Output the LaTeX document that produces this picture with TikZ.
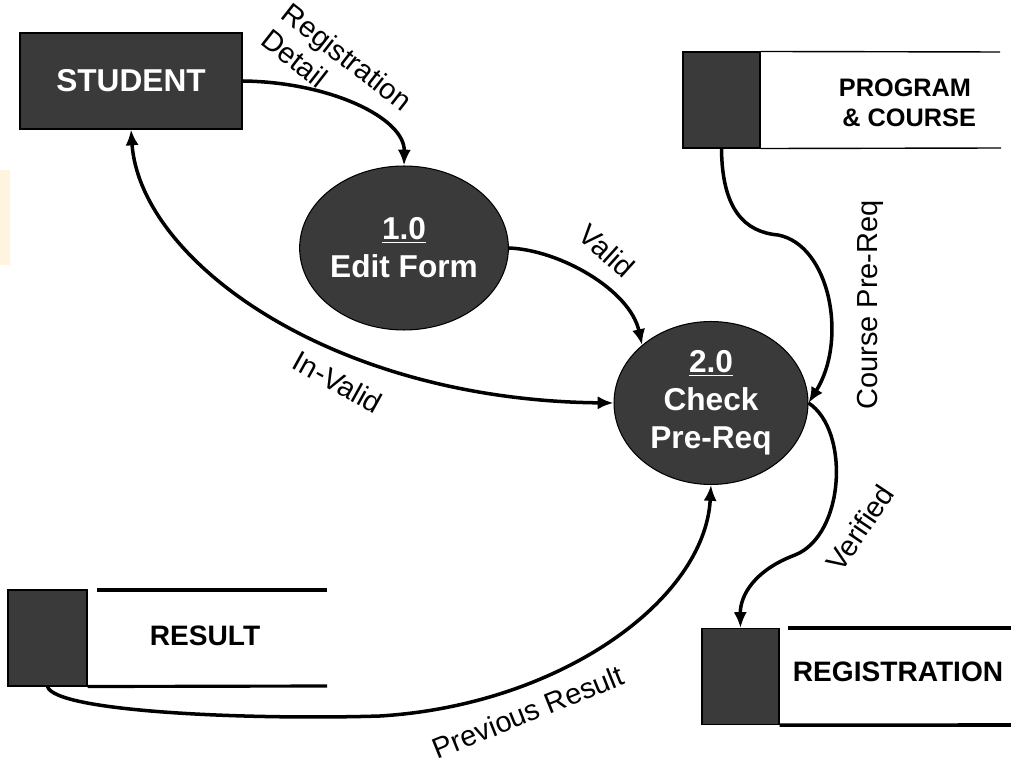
\documentclass[tikz,border=0pt]{standalone}
\usepackage{fontspec}
\setmainfont{Liberation Sans}
\usetikzlibrary{shapes.geometric,arrows.meta}
\definecolor{dfdgrey}{HTML}{3A3A3A}
\definecolor{patch}{HTML}{FFF4DF}
\begin{document}
\begin{tikzpicture}[x=0.02cm,y=-0.02cm]
\tikzset{entite/.style={draw, fill=dfdgrey, text=white, font=\fontsize{18}{21.5}\selectfont\bfseries, inner sep=0pt, line width=0.6pt},
         processus/.style={entite, ellipse, align=center},
         stocke/.style={draw, fill=dfdgrey, inner sep=0pt, line width=0.6pt, minimum width=1.54cm, minimum height=1.92cm},
         titre/.style={font=\fontsize{16}{19}\selectfont\bfseries, align=center},
         flux/.style={line width=2pt, -{Latex[length=9pt,width=7.5pt]}},
         etiq/.style={font=\fontsize{16.5}{19}\selectfont, inner sep=0pt}}
\useasboundingbox (0,0) rectangle (1011,763);
\fill[patch] (0,170) rectangle (10,265);
\node[entite, minimum width=4.44cm, minimum height=1.92cm] (student) at (131,81) {STUDENT};
\node[processus, minimum width=3.84cm, minimum height=3.28cm] (edit) at (404,248) {\underline{1.0}\\Edit Form};
\node[processus, minimum width=3.88cm, minimum height=3.26cm] (check) at (711,403) {\underline{2.0}\\Check\\Pre-Req};
\node[stocke] (progsq) at (721.5,100) {};
\node[stocke, minimum width=1.58cm] (ressq) at (47.5,638) {};
\node[stocke] (regsq) at (740.5,676.5) {};
\node[titre, font=\fontsize{14.4}{17.4}\selectfont\bfseries] (progtxt) at (905,103) {PROGRAM\\\,\,\& COURSE};
\node[titre] (restxt) at (205,636) {RESULT};
\node[titre] (regtxt) at (898,672) {REGISTRATION};
\coordinate (progtop) at (1000,52);
\coordinate (progbot) at (1001,148);
\coordinate (restopa) at (97,590);
\coordinate (restopb) at (327,590);
\coordinate (resbot) at (327,686);
\coordinate (regtopa) at (788,628);
\coordinate (regtopb) at (1011,628);
\coordinate (regbot) at (1011,725);
\draw[line width=0.8pt] (progsq.north east) -- (progtop);
\draw[line width=0.8pt] (progsq.south east) -- (progbot);
\draw[line width=1.8pt] (restopa) -- (restopb);
\draw[line width=1.8pt] (ressq.south east) -- (resbot);
\draw[line width=2pt] (regtopa) -- (regtopb);
\draw[line width=2pt] (regsq.south east) -- (regbot);
\draw[flux] (student.east) .. controls (330,82) and (405,118) .. (edit.north);
\draw[flux, {Latex[length=9pt,width=7.5pt]}-{Latex[length=9pt,width=7.5pt]}] (student.south) .. controls (140,260) and (330,400) .. (check.west);
\draw[flux] (edit.east) .. controls (560,250) and (630,290) .. (check.north west);
\draw[flux] (progsq.south) .. controls (722,210) and (745,232) .. (778,235) .. controls (830,245) and (848,340) .. (check.east);
\draw[flux] (check.east) .. controls (850,430) and (845,535) .. (795,555) .. controls (755,570) and (740,595) .. (regsq.north);
\draw[flux] (ressq.south) .. controls (55,712) and (250,720) .. (380,716) .. controls (560,705) and (705,600) .. (check.south);
\node[etiq, rotate=-38, align=left] (regdetail) at (337,70) {Registration\\Detail};
\node[etiq, rotate=-42] (valid) at (607,251) {Valid};
\node[etiq, rotate=-29] (invalid) at (338,382) {In-Valid};
\node[etiq, rotate=90] (coursepre) at (870,305) {Course Pre-Req};
\node[etiq, rotate=56] (verified) at (860,528) {Verified};
\node[etiq, rotate=22] (prevresult) at (528,712) {Previous Result};
\end{tikzpicture}
\end{document}
